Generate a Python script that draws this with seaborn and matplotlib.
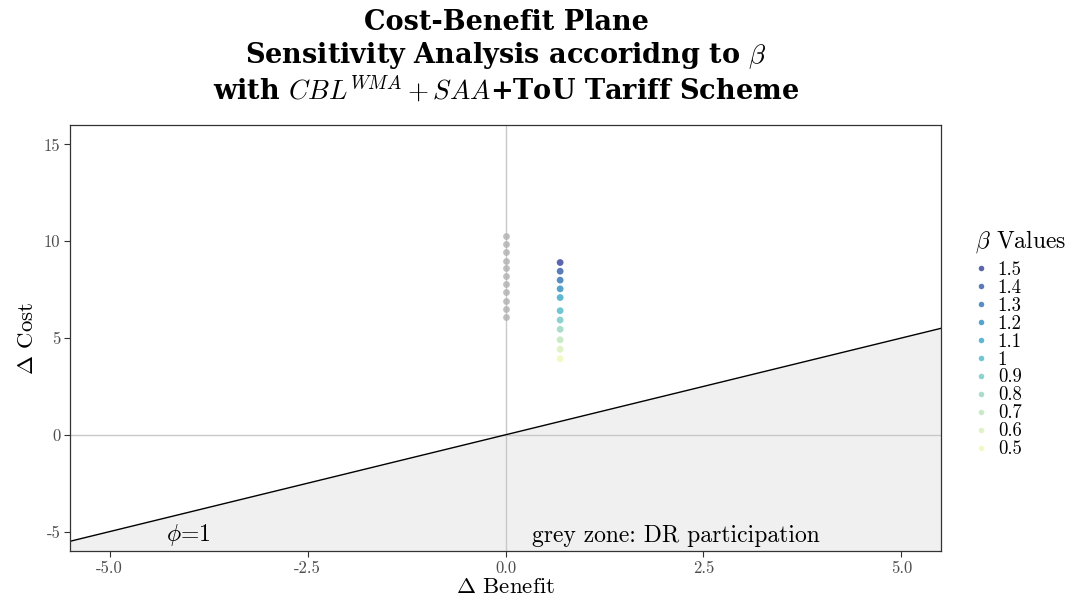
import matplotlib
matplotlib.use("Agg")
import matplotlib.pyplot as plt
import seaborn as sns
import numpy as np
import pandas as pd
from matplotlib.lines import Line2D

# ---- data ----
beta_values = [1.5, 1.4, 1.3, 1.2, 1.1, 1.0, 0.9, 0.8, 0.7, 0.6, 0.5]
beta_labels = ["1.5", "1.4", "1.3", "1.2", "1.1", "1", "0.9", "0.8", "0.7", "0.6", "0.5"]
benefit_scheme = [0.69] * 11
cost_scheme = [8.90, 8.45, 7.99, 7.54, 7.09, 6.41, 5.93, 5.45, 4.91, 4.42, 3.93]
benefit_base = [0.0] * 11
cost_base = [10.25, 9.83, 9.42, 9.00, 8.60, 8.20, 7.77, 7.36, 6.93, 6.50, 6.10]
phi = 1.0
x_ticks = [-5.0, -2.5, 0.0, 2.5, 5.0]
y_ticks = [-5, 0, 5, 10, 15]

sns.set_theme(style="white")
plt.rcParams["font.family"] = ["cmr10", "DejaVu Serif"]
plt.rcParams["mathtext.fontset"] = "cm"
plt.rcParams["axes.unicode_minus"] = False
plt.rcParams["axes.formatter.use_mathtext"] = True
plt.rcParams["text.color"] = "black"
plt.rcParams["axes.labelcolor"] = "black"

fig = plt.figure(figsize=(10.72, 6.07), dpi=100)
ax = fig.add_axes([0.0653, 0.0923, 0.8125, 0.7017])

xlim = (-5.5, 5.5)
ylim = (-6, 16)
xs = np.array(xlim)
ax.fill_between(xs, xs * phi, ylim[0], color="#f0f0f0", zorder=0, linewidth=0)
ax.axhline(0, color="#c8c8c8", lw=1, zorder=1)
ax.axvline(0, color="#c8c8c8", lw=1, zorder=1)
ax.plot(xs, xs * phi, color="black", lw=1, zorder=2)

cmap = plt.get_cmap("YlGnBu")
cols = [cmap(v) for v in np.linspace(0.875, 0.125, len(beta_values))]
palette = dict(zip(beta_labels, cols))

df_base = pd.DataFrame({"benefit": benefit_base, "cost": cost_base})
df = pd.DataFrame({"benefit": benefit_scheme, "cost": cost_scheme, "beta": beta_labels})

sns.scatterplot(data=df_base, x="benefit", y="cost", color="#b0b0b0", alpha=0.8,
                s=24, linewidth=0, ax=ax, zorder=3)
sns.scatterplot(data=df, x="benefit", y="cost", hue="beta", hue_order=beta_labels,
                palette=palette, alpha=0.75, s=24, linewidth=0, ax=ax, zorder=4, legend=False)

ax.set_xlim(xlim)
ax.set_ylim(ylim)
ax.set_xticks(x_ticks)
ax.set_xticklabels([f"{v:.1f}" for v in x_ticks])
ax.set_yticks(y_ticks)
ax.set_yticklabels([str(v) for v in y_ticks])
ax.tick_params(axis="both", which="both", length=4, width=0.8, color="#333333",
               labelcolor="#4d4d4d", labelsize=12, bottom=True, left=True, pad=3)
for sp in ax.spines.values():
    sp.set_color("#333333")
    sp.set_linewidth(0.9)

ax.set_xlabel(r"$\Delta$ Benefit", fontsize=16.5, labelpad=1)
ax.set_ylabel(r"$\Delta$ Cost", fontsize=16.5, labelpad=5)

ax.text(-4.29, -5.2, r"$\phi$=1", fontsize=17, va="center", ha="left")
ax.text(2.15, -5.2, "grey zone: DR participation", fontsize=17, va="center", ha="center")

fig.text(0.472, 0.985,
         "Cost-Benefit Plane\nSensitivity Analysis accoridng to $\\beta$\nwith $CBL^{WMA}+SAA$+ToU Tariff Scheme",
         ha="center", va="top", fontsize=19.5, fontweight="bold",
         fontfamily=["DejaVu Serif"], linespacing=1.18)

# legend title placed separately, entries below it
fig.text(975 / 1072, 1 - 242 / 607, r"$\beta$ Values", fontsize=17, ha="left", va="center")
handles = [Line2D([0], [0], marker="o", linestyle="", markersize=4,
                  markerfacecolor=palette[l], markeredgewidth=0, alpha=0.75) for l in beta_labels]
leg = fig.legend(handles, beta_labels, loc="upper left",
                 bbox_to_anchor=(0.908, 1 - 261 / 607), frameon=False, fontsize=13.5,
                 handlelength=0.8, handletextpad=0.5,
                 labelspacing=0.0, borderpad=0, borderaxespad=0)

fig.savefig("out.png", dpi=100)
